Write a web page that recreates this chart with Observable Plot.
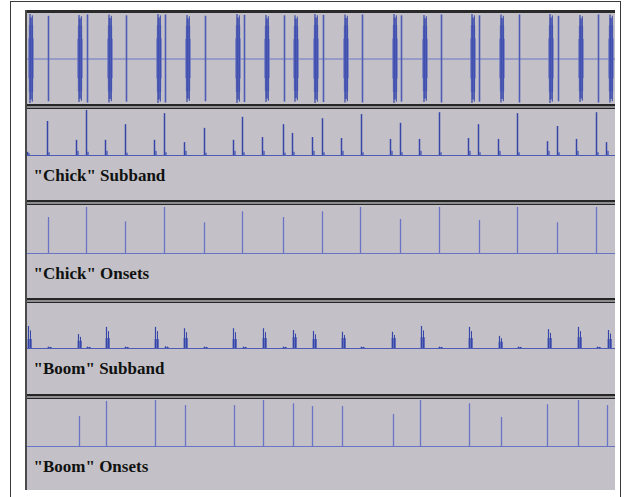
<!DOCTYPE html>
<html><head><meta charset="utf-8">
<script src="https://cdn.jsdelivr.net/npm/d3@7"></script>
<script src="https://cdn.jsdelivr.net/npm/@observablehq/plot@0.6"></script>
<style>
body{margin:0;background:#fff;width:625px;height:497px;overflow:hidden;position:relative;}
#frame{position:absolute;left:10px;top:1px;width:611px;height:530px;border:1.5px solid #3a3a3a;box-sizing:border-box;}
.track{position:absolute;left:25px;width:590px;background:#c3c1c7;}
.track svg{display:block;}
.sep{position:absolute;left:25px;width:590px;height:5px;background:#8d8c90;border-top:2px solid #262626;border-bottom:1.5px solid #262626;box-sizing:border-box;}
#edge{position:absolute;left:25px;top:10px;width:1.5px;height:480px;background:#4a4a4a;}
#topline{position:absolute;left:25px;top:10px;width:590px;height:3px;background:#2a2a2a;}
</style></head>
<body>
<div id="frame"></div>
<div id="topline"></div>
<div class="track" id="t1" style="top:13px;height:91px"></div>
<div class="sep" style="top:104px"></div>
<div class="track" id="t2" style="top:109px;height:91px"></div>
<div class="sep" style="top:200px"></div>
<div class="track" id="t3" style="top:205px;height:93px"></div>
<div class="sep" style="top:298px"></div>
<div class="track" id="t4" style="top:303px;height:91px"></div>
<div class="sep" style="top:394px"></div>
<div class="track" id="t5" style="top:399px;height:91px"></div>
<div id="edge"></div>
<script>
// ---- data (time in track units, 0..590) ----
const trackLabels = ['"Chick" Subband', '"Chick" Onsets', '"Boom" Subband', '"Boom" Onsets'];

// waveform
const waveBoomTimes = [3, 52, 82, 131, 160, 210, 239, 268, 288, 318, 367, 397, 445, 474, 523, 553, 583];
const waveBoomAmp   = [1.0, 0.98, 0.99, 1.0, 0.98, 1.0, 0.98, 0.97, 1.0, 0.99, 1.0, 0.98, 1.0, 0.99, 1.0, 0.98, 0.99];
const waveChickTimes = [22, 61, 100, 139, 179, 218, 258, 297, 336, 375, 415, 453, 493, 532, 572];
const waveChickAmp   = [0.96, 0.99, 0.97, 0.99, 0.96, 0.98, 0.97, 0.98, 0.99, 0.97, 0.99, 0.97, 0.99, 0.96, 0.99];

// "Chick" subband envelope peaks
const chickBandTimes = [2, 22, 51, 61, 80, 100, 129, 139, 159, 179, 208, 217, 237, 258, 267, 287, 297, 316, 336, 365, 375, 394, 414, 443, 453, 473, 492, 522, 532, 551, 571, 581];
const chickBandPeaks = [0.07, 0.74, 0.33, 0.98, 0.33, 0.67, 0.33, 0.91, 0.28, 0.59, 0.33, 0.83, 0.39, 0.67, 0.48, 0.39, 0.80, 0.37, 0.89, 0.35, 0.70, 0.35, 0.93, 0.37, 0.67, 0.35, 0.91, 0.30, 0.63, 0.35, 0.93, 0.28];
const chickBandTails = [0.04, 0.06, 0.09, 0.07, 0.09, 0.05, 0.09, 0.06, 0.09, 0.05, 0.09, 0.06, 0.09, 0.05, 0.07, 0.09, 0.06, 0.09, 0.06, 0.09, 0.06, 0.09, 0.06, 0.09, 0.06, 0.09, 0.06, 0.09, 0.06, 0.09, 0.06, 0.09];

// "Chick" onsets
const chickOnsetTimes = [23, 61, 100, 139, 179, 217, 258, 297, 335, 375, 414, 454, 492, 532, 571];
const chickOnsetAmp   = [0.75, 0.96, 0.66, 0.96, 0.64, 0.87, 0.75, 0.87, 0.96, 0.71, 0.96, 0.69, 0.96, 0.64, 0.96];

// "Boom" subband bursts
const boomBandTimes  = [3, 23, 53, 62, 81, 100, 130, 140, 159, 179, 208, 218, 238, 258, 268, 288, 317, 336, 367, 396, 414, 444, 474, 493, 523, 553, 572, 583];
const boomBandPeaks  = [0.49, 0.03, 0.31, 0.03, 0.47, 0.03, 0.47, 0.04, 0.44, 0.03, 0.44, 0.03, 0.44, 0.03, 0.40, 0.38, 0.36, 0.03, 0.36, 0.49, 0.03, 0.47, 0.27, 0.03, 0.42, 0.47, 0.03, 0.40];
const boomBandBodies = [0.20, 0.02, 0.16, 0.02, 0.22, 0.02, 0.20, 0.02, 0.22, 0.02, 0.20, 0.02, 0.22, 0.02, 0.24, 0.20, 0.22, 0.02, 0.22, 0.24, 0.02, 0.22, 0.14, 0.02, 0.22, 0.24, 0.02, 0.20];

// "Boom" onsets
const boomOnsetTimes = [54, 81, 130, 160, 209, 238, 268, 287, 317, 368, 395, 444, 476, 522, 553, 582];
const boomOnsetAmp   = [0.64, 0.96, 0.98, 0.87, 0.87, 0.98, 0.91, 0.85, 0.85, 0.68, 0.98, 0.91, 0.62, 0.89, 0.98, 0.87];

// ---- helpers ----
const zip = (ts, vs, ws) => ts.map((t, i) => ({t, v: vs[i], w: ws ? ws[i] : 0}));
const dark = "#3646a8", mid = "#4d5ab6", soft = "#6f79c4", light = "#6a74c6";
const font = "'Liberation Serif','Times New Roman',serif";

function track(id, marks, yDomain, height, mt, mb, label) {
  const all = marks.slice();
  if (label) all.push(Plot.text([label], {frameAnchor: "bottom-left", text: d => d, dx: 8, dy: 20,
    textAnchor: "start", lineAnchor: "middle", fontFamily: font, fontWeight: "bold", fontSize: 17, fill: "#111"}));
  const svg = Plot.plot({
    width: 590, height, marginLeft: 0, marginRight: 0, marginTop: mt, marginBottom: mb,
    x: {domain: [0, 590], axis: null},
    y: {domain: yDomain, axis: null},
    style: {background: "transparent", overflow: "visible"},
    marks: all
  });
  document.getElementById(id).appendChild(svg);
}

// Track 1: waveform (lens-shaped bursts drawn as layered rules)
const wb = zip(waveBoomTimes, waveBoomAmp), wc = zip(waveChickTimes, waveChickAmp);
track("t1", [
  Plot.ruleY([0], {stroke: light, strokeWidth: 1}),
  Plot.ruleX(wb, {x: d => d.t + 2.5, y1: d => -d.v * 0.45, y2: d => d.v * 0.45, stroke: soft, strokeWidth: 6, strokeOpacity: 0.7}),
  Plot.ruleX(wb, {x: d => d.t + 2.5, y1: d => -d.v * 0.75, y2: d => d.v * 0.75, stroke: soft, strokeWidth: 4.5, strokeOpacity: 0.8}),
  Plot.ruleX(wb, {x: d => d.t + 2.5, y1: d => -d.v * 0.92, y2: d => d.v * 0.92, stroke: mid, strokeWidth: 2.5, strokeOpacity: 0.85}),
  Plot.ruleX(wb, {x: d => d.t + 1.5, y1: d => -d.v, y2: d => d.v, stroke: dark, strokeWidth: 1.2}),
  Plot.ruleX(wb, {x: d => d.t + 3.8, y1: d => -d.v * 0.97, y2: d => d.v * 0.97, stroke: dark, strokeWidth: 1}),
  Plot.ruleX(wc, {x: d => d.t + 1, y1: d => -d.v, y2: d => d.v, stroke: mid, strokeWidth: 1.6})
], [-1, 1], 91, 1, 1, null);

// Track 2: chick subband
const cb = zip(chickBandTimes, chickBandPeaks, chickBandTails);
track("t2", [
  Plot.ruleY([0], {stroke: mid, strokeWidth: 1}),
  Plot.rectY(cb, {x1: d => d.t, x2: d => d.t + 3, y1: 0, y2: "w", fill: mid, fillOpacity: 0.7}),
  Plot.ruleX(cb, {x: "t", y1: 0, y2: "v", stroke: dark, strokeWidth: 1.5})
], [0, 1], 91, 0, 45, trackLabels[0]);

// Track 3: chick onsets
track("t3", [
  Plot.ruleY([0], {stroke: light, strokeWidth: 1.2}),
  Plot.ruleX(zip(chickOnsetTimes, chickOnsetAmp), {x: "t", y1: 0, y2: "v", stroke: light, strokeWidth: 1.3})
], [0, 1], 93, 0, 45, trackLabels[1]);

// Track 4: boom subband
const bb = zip(boomBandTimes, boomBandPeaks, boomBandBodies);
track("t4", [
  Plot.ruleY([0], {stroke: mid, strokeWidth: 1}),
  Plot.rectY(bb, {x1: d => d.t - 0.5, x2: d => d.t + 4, y1: 0, y2: "w", fill: mid, fillOpacity: 0.8}),
  Plot.ruleX(bb, {x: "t", y1: 0, y2: "v", stroke: dark, strokeWidth: 1.2}),
  Plot.ruleX(bb, {x: d => d.t + 2, y1: 0, y2: d => d.v * 0.8, stroke: dark, strokeWidth: 1})
], [0, 1], 91, 0, 46, trackLabels[2]);

// Track 5: boom onsets
track("t5", [
  Plot.ruleY([0], {stroke: light, strokeWidth: 1.2}),
  Plot.ruleX(zip(boomOnsetTimes, boomOnsetAmp), {x: "t", y1: 0, y2: "v", stroke: light, strokeWidth: 1.3})
], [0, 1], 91, 0, 44, trackLabels[3]);
</script>
</body></html>
